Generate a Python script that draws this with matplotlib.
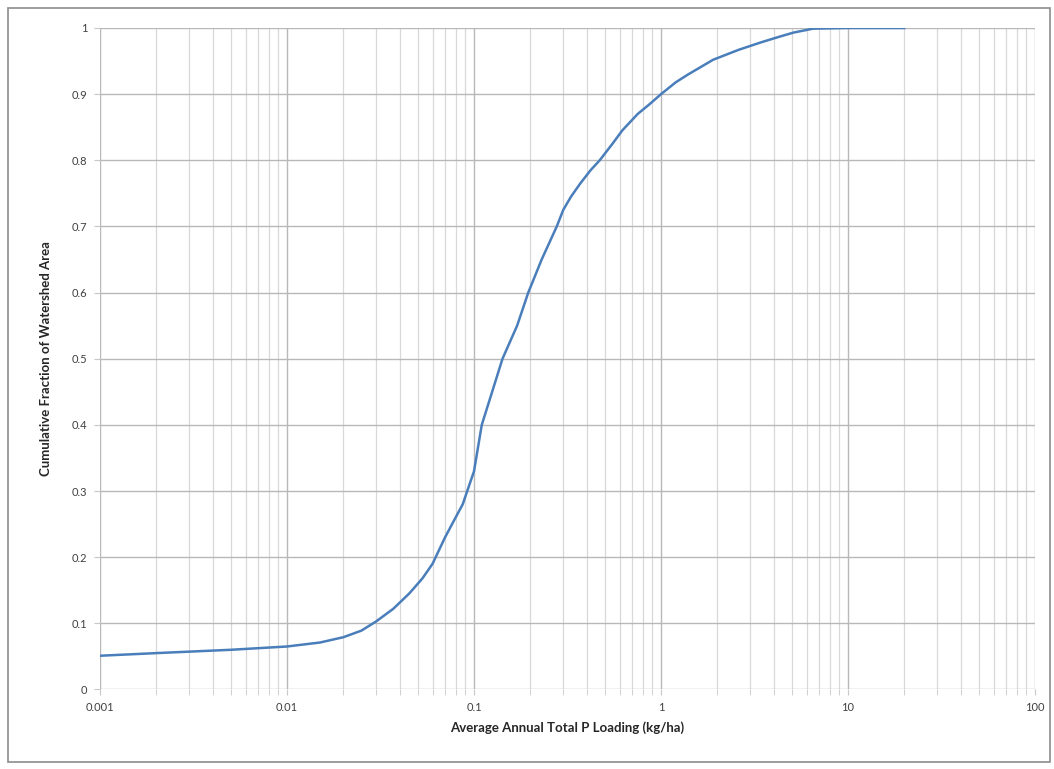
import numpy as np
import matplotlib.pyplot as plt
from matplotlib.patches import Rectangle
from matplotlib.ticker import FixedLocator, LogLocator, NullFormatter

plt.rcParams['font.family'] = ['Lato', 'DejaVu Sans']

# Cumulative distribution of P loading over watershed area
loading = [0.001, 0.002, 0.005, 0.01, 0.015, 0.02, 0.025, 0.03, 0.037, 0.045,
           0.053, 0.06, 0.07, 0.078, 0.087, 0.1, 0.11, 0.125, 0.142, 0.17,
           0.195, 0.23, 0.277, 0.3, 0.33, 0.37, 0.42, 0.47, 0.55, 0.62,
           0.75, 0.87, 1.0, 1.2, 1.4, 1.9, 2.6, 3.4, 4.2, 5.1, 6.5, 10, 20]
cum_frac = [0.051, 0.055, 0.06, 0.065, 0.071, 0.079, 0.089, 0.103, 0.122, 0.145,
            0.168, 0.19, 0.23, 0.255, 0.28, 0.33, 0.40, 0.45, 0.50, 0.55,
            0.60, 0.65, 0.70, 0.725, 0.745, 0.765, 0.785, 0.80, 0.825, 0.845,
            0.87, 0.885, 0.90, 0.918, 0.93, 0.952, 0.967, 0.978, 0.986, 0.993, 0.999, 1.0, 1.0]

x_ticks = [0.001, 0.01, 0.1, 1, 10, 100]
x_labels = ['0.001', '0.01', '0.1', '1', '10', '100']
y_ticks = [0, 0.1, 0.2, 0.3, 0.4, 0.5, 0.6, 0.7, 0.8, 0.9, 1]
y_labels = ['0', '0.1', '0.2', '0.3', '0.4', '0.5', '0.6', '0.7', '0.8', '0.9', '1']

fig = plt.figure(figsize=(10.54, 7.69), dpi=100)
ax = fig.add_axes([0.0949, 0.1034, 0.8871, 0.8602])

ax.plot(loading, cum_frac, color='#4a7ebb', linewidth=1.8, zorder=3,
        solid_joinstyle='round')

ax.set_xscale('log')
ax.set_xlim(0.001, 100)
ax.set_ylim(0, 1)
ax.xaxis.set_major_locator(FixedLocator(x_ticks))
ax.set_xticklabels(x_labels)
ax.xaxis.set_minor_locator(LogLocator(base=10, subs=np.arange(2, 10), numticks=20))
ax.xaxis.set_minor_formatter(NullFormatter())
ax.set_yticks(y_ticks)
ax.set_yticklabels(y_labels)

ax.grid(True, which='major', color='#b8b8b8', linewidth=1.0)
ax.grid(True, which='minor', axis='x', color='#d8d8d8', linewidth=0.9)
ax.tick_params(axis='both', which='both', length=4, color='#c8c8c8',
               labelsize=8, labelcolor='#404040', pad=5)
ax.tick_params(axis='x', which='minor', length=4)

for s in ax.spines.values():
    s.set_visible(False)

ax.set_xlabel('Average Annual Total P Loading (kg/ha)', fontsize=9.5,
              fontweight='bold', color='#262626', labelpad=6)
ax.set_ylabel('Cumulative Fraction of Watershed Area', fontsize=9.5,
              fontweight='bold', color='#262626', labelpad=14)

# outer chart frame
fig.patches.append(Rectangle((8 / 1054, 7 / 769), 1042 / 1054, 754 / 769,
                             transform=fig.transFigure, fill=False,
                             edgecolor='#8c8c8c', linewidth=1.2))

fig.savefig('out.png', dpi=100)
